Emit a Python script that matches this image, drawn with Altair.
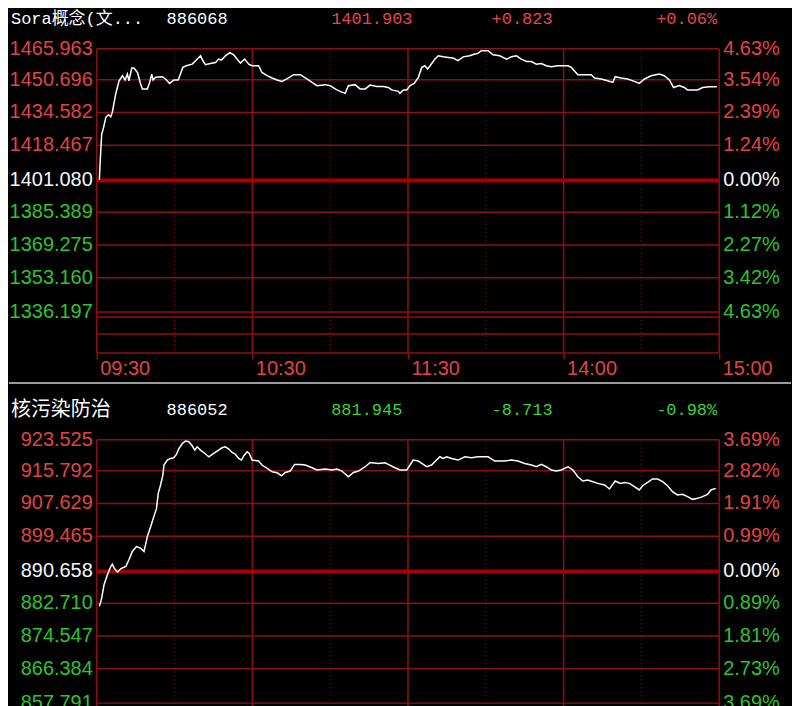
import altair as alt
import pandas as pd

# ---------------- data: top panel (Sora概念) ----------------
top_name = "Sora概念(文..."
top_code = "886068"
top_price_txt = "1401.903"
top_chg_txt = "+0.823"
top_pct_txt = "+0.06%"
top_prev_close = 1401.080
top_left_vals = [1465.963, 1450.696, 1434.582, 1418.467, 1401.080, 1385.389, 1369.275, 1353.160, 1336.197]
top_left_labels = ["1465.963", "1450.696", "1434.582", "1418.467", "1401.080", "1385.389", "1369.275", "1353.160", "1336.197"]
top_right_labels = ["4.63%", "3.54%", "2.39%", "1.24%", "0.00%", "1.12%", "2.27%", "3.42%", "4.63%"]
top_sub_lines = [1333.74, 1325.38]

top_minutes = [1, 1.4, 1.9, 2.4, 3.5, 4.5, 5.4, 6.0, 7.3, 8.6,
               9.9, 10.9, 11.8, 12.4, 13.5, 14.3, 15.7, 16.9, 17.6, 19.5,
               20.4, 21.2, 21.7, 22.7, 25.3, 26.5, 28.1, 29.7, 31.4, 33.2,
               34.5, 36.8, 38.1, 40.0, 40.9, 41.9, 43.8, 45.8, 47.0, 48.1,
               49.6, 51.3, 52.8, 54.1, 55.4, 57.0, 58.6, 59.9, 62.4, 63.7,
               65.7, 67.6, 69.5, 71.4, 73.3, 75.9, 78.5, 81.0, 83.0, 84.9,
               88.1, 90.0, 91.9, 93.8, 95.8, 97.0, 99.6, 101.5, 103.5, 105.4,
               108.0, 110.5, 112.4, 113.7, 116.3, 116.9, 118.2, 119.5, 120.8, 122.4,
               124.0, 125.3, 126.5, 127.6, 128.8, 130.4, 131.7, 133.6, 135.5, 137.4,
               139.3, 141.3, 143.8, 145.8, 147.0, 148.3, 150.9, 152.8, 155.4, 158.0,
               159.9, 161.8, 163.7, 165.7, 167.6, 169.5, 171.4, 173.3, 175.3, 177.8,
               181.7, 183.0, 185.5, 188.1, 190.7, 191.9, 194.5, 197.0, 199.0, 199.9,
               202.2, 204.7, 207.3, 209.2, 211.2, 213.7, 216.9, 218.8, 220.8, 222.4,
               224.6, 226.5, 227.8, 231.7, 233.6, 236.2, 239.1]
top_prices = [1401.4, 1412.5, 1424.0, 1426.0, 1432.2, 1433.5, 1432.5, 1434.7, 1443.7, 1450.2,
              1452.7, 1450.6, 1453.5, 1450.2, 1456.5, 1456.5, 1454.3, 1448.6, 1446.2, 1446.2,
              1449.4, 1453.5, 1450.6, 1451.9, 1452.2, 1451.1, 1448.9, 1450.6, 1450.6, 1456.8,
              1457.6, 1458.4, 1460.1, 1462.5, 1460.1, 1458.1, 1458.7, 1459.2, 1460.9, 1460.4,
              1462.5, 1464.1, 1463.0, 1460.9, 1458.9, 1460.9, 1458.4, 1457.6, 1457.6, 1454.3,
              1452.7, 1451.6, 1450.6, 1449.9, 1451.1, 1453.2, 1453.2, 1451.1, 1449.4, 1447.8,
              1448.3, 1447.8, 1446.2, 1445.0, 1444.0, 1447.8, 1448.3, 1446.2, 1446.2, 1448.1,
              1447.4, 1447.4, 1446.9, 1445.7, 1445.0, 1444.0, 1445.7, 1445.7, 1447.8, 1448.9,
              1451.9, 1456.8, 1457.6, 1456.0, 1458.1, 1460.9, 1462.5, 1462.0, 1461.7, 1461.4,
              1460.1, 1462.0, 1462.5, 1463.4, 1463.7, 1465.0, 1465.0, 1463.0, 1462.5, 1460.9,
              1462.0, 1462.5, 1460.9, 1459.7, 1459.7, 1458.4, 1458.7, 1457.6, 1457.1, 1457.6,
              1457.6, 1456.8, 1453.2, 1453.2, 1453.2, 1451.6, 1451.1, 1450.2, 1449.4, 1452.2,
              1451.6, 1451.1, 1449.9, 1448.9, 1451.1, 1452.7, 1453.5, 1452.7, 1450.6, 1446.9,
              1447.8, 1446.9, 1445.7, 1445.7, 1446.9, 1447.3, 1447.3]

# ---------------- data: bottom panel (核污染防治) ----------------
bot_name = "核污染防治"
bot_code = "886052"
bot_price_txt = "881.945"
bot_chg_txt = "-8.713"
bot_pct_txt = "-0.98%"
bot_prev_close = 890.658
bot_left_vals = [923.525, 915.792, 907.629, 899.465, 890.658, 882.710, 874.547, 866.384, 857.791]
bot_left_labels = ["923.525", "915.792", "907.629", "899.465", "890.658", "882.710", "874.547", "866.384", "857.791"]
bot_right_labels = ["3.69%", "2.82%", "1.91%", "0.99%", "0.00%", "0.89%", "1.81%", "2.73%", "3.69%"]

bot_minutes = [1, 1.9, 2.8, 4.1, 5.4, 6.0, 6.7, 8.0, 9.2, 11.2,
               12.4, 13.7, 15.3, 16.9, 18.2, 18.8, 19.5, 20.8, 22.0, 23.0,
               23.7, 24.6, 25.5, 25.9, 27.2, 28.5, 29.7, 30.7, 31.7, 33.0,
               34.2, 35.5, 36.8, 37.8, 38.7, 40.0, 41.7, 43.2, 45.1, 47.0,
               48.3, 49.6, 50.9, 52.2, 53.5, 54.7, 55.8, 56.7, 58.0, 58.8,
               59.9, 62.4, 63.7, 65.7, 67.6, 69.5, 71.2, 72.7, 74.6, 76.3,
               78.5, 80.4, 83.0, 84.9, 88.1, 90.7, 92.6, 94.5, 97.0, 99.0,
               100.9, 103.5, 105.4, 108.6, 111.2, 112.4, 115.0, 116.9, 119.5, 120.8,
               122.0, 124.0, 125.3, 127.2, 129.1, 131.0, 132.3, 133.6, 134.9, 136.8,
               139.3, 141.9, 144.5, 147.0, 150.9, 153.5, 157.3, 159.9, 162.4, 165.0,
               167.6, 169.5, 171.4, 173.3, 175.3, 177.2, 179.1, 181.7, 183.6, 185.5,
               187.4, 189.3, 191.3, 193.2, 195.8, 197.7, 198.6, 199.9, 201.9, 203.5,
               205.4, 207.3, 209.2, 210.5, 212.4, 214.3, 216.3, 218.2, 220.1, 222.0,
               223.9, 225.9, 227.8, 229.7, 231.7, 233.6, 235.5, 236.8, 238.7]
bot_prices = [881.94, 884.01, 887.35, 889.84, 891.90, 892.48, 891.48, 890.48, 891.33, 891.90,
              893.57, 895.64, 896.88, 896.46, 895.64, 897.31, 899.37, 901.86, 904.35, 906.27,
              910.15, 912.25, 914.74, 917.23, 918.47, 918.87, 919.04, 919.87, 921.36, 922.60,
              923.20, 923.03, 922.03, 920.96, 921.78, 920.96, 920.11, 919.29, 920.11, 920.96,
              921.53, 921.78, 921.21, 920.36, 919.87, 918.87, 918.47, 919.54, 920.54, 920.11,
              918.47, 918.22, 917.23, 916.38, 915.56, 915.31, 914.56, 915.38, 915.73, 917.38,
              917.38, 917.23, 916.55, 915.98, 916.23, 915.98, 916.23, 915.73, 914.31, 915.38,
              915.73, 916.80, 917.87, 917.63, 917.80, 917.38, 916.55, 915.98, 915.98, 917.23,
              918.47, 918.22, 917.63, 916.80, 917.23, 918.47, 919.29, 918.87, 919.29, 918.87,
              918.47, 919.29, 919.04, 919.29, 919.29, 918.22, 918.22, 918.47, 918.22, 917.63,
              917.23, 916.80, 917.38, 916.80, 915.98, 915.73, 915.98, 916.80, 915.98, 914.31,
              913.24, 913.49, 913.07, 912.65, 912.25, 911.25, 912.07, 913.24, 912.65, 912.89,
              912.65, 911.82, 911.00, 912.07, 912.89, 913.74, 913.74, 913.07, 912.07, 910.58,
              909.76, 909.91, 909.33, 908.66, 908.91, 909.33, 909.91, 911.00, 911.40]

# time axis
time_ticks = [0, 60, 120, 180, 240]
time_labels = ["09:30", "10:30", "11:30", "14:00", "15:00"]
half_hour_ticks = [30, 90, 150, 210]

# ---------------- styling ----------------
RED = "#e04444"
GREEN = "#2ec42e"
WHITE = "#f2f8ff"
HDR_RED = "#e84646"
HDR_GREEN = "#3ad43a"
GRID = "#8e1010"
ZERO = "#a80000"
MONO = "Liberation Mono, Noto Sans CJK SC"
SANS = "Liberation Sans"

W = 624
H_TOP = 305
H_BOT = 274

x_scale = alt.Scale(domain=[0, 240], nice=False, zero=False)

label_expr = " : ".join(
    f"datum.value == {v} ? '{t}'" for v, t in zip(time_ticks, time_labels)
) + " : ''"

top_x_axis = alt.Axis(values=time_ticks, labelExpr=label_expr, tickSize=6,
                      tickColor=GRID, tickWidth=1.5, domain=False, grid=False,
                      labelColor=RED, labelFontSize=20, labelFont=SANS,
                      labelAlign="left", labelOffset=3, labelPadding=0,
                      labelFlush=False, labelOverlap=False, labelBound=False,
                      title=None, zindex=2)


def label_color(v, prev):
    if abs(v - prev) < 1e-6:
        return WHITE
    return RED if v > prev else GREEN


def panel(name, code, price_txt, chg_txt, pct_txt, hdr_color, name_size,
          prev, left_vals, left_labels, right_labels, minutes, prices,
          y_domain, height, top_extent, bottom_extent, x_axis, sub_lines, separator):
    y_scale = alt.Scale(domain=y_domain, nice=False, zero=False)
    one = pd.DataFrame({"k": [0]})

    bg = alt.Chart(one).mark_rect(color="black").encode(
        x=alt.value(-88), x2=alt.value(696),
        y=alt.value(top_extent), y2=alt.value(bottom_extent))

    # horizontal grid: label levels, sub-area lines and the lower frame edge
    grid_vals = [v for v in left_vals if abs(v - prev) > 1e-6] + list(sub_lines) + [y_domain[0]]
    grid = alt.Chart(pd.DataFrame({"v": grid_vals})).mark_rule(
        color=GRID, strokeWidth=1.5).encode(y=alt.Y("v:Q", scale=y_scale, axis=None))
    zero = alt.Chart(pd.DataFrame({"v": [prev]})).mark_rule(
        color=ZERO, strokeWidth=4).encode(y=alt.Y("v:Q", scale=y_scale, axis=None))

    vsolid = alt.Chart(pd.DataFrame({"minute": time_ticks})).mark_rule(
        color=GRID, strokeWidth=1.5).encode(
        x=alt.X("minute:Q", scale=x_scale, axis=x_axis))
    vdot = alt.Chart(pd.DataFrame({"minute": half_hour_ticks})).mark_rule(
        color=GRID, strokeWidth=1.2, strokeDash=[1, 3]).encode(
        x=alt.X("minute:Q", scale=x_scale, axis=x_axis))

    line = alt.Chart(pd.DataFrame({"minute": minutes, "price": prices})).mark_line(
        color="white", strokeWidth=1.5).encode(
        x=alt.X("minute:Q", scale=x_scale, axis=x_axis),
        y=alt.Y("price:Q", scale=y_scale, axis=None))

    lab = pd.DataFrame({
        "v": left_vals,
        "l": left_labels,
        "r": right_labels,
        "c": [label_color(v, prev) for v in left_vals],
    })
    left = alt.Chart(lab).mark_text(align="right", baseline="middle",
                                    fontSize=20, font=SANS).encode(
        x=alt.value(-4), y=alt.Y("v:Q", scale=y_scale, axis=None),
        text="l:N", color=alt.Color("c:N", scale=None))
    right = alt.Chart(lab).mark_text(align="left", baseline="middle",
                                     fontSize=20, font=SANS).encode(
        x=alt.value(628), y=alt.Y("v:Q", scale=y_scale, axis=None),
        text="r:N", color=alt.Color("c:N", scale=None))

    hy = -30
    h_name = alt.Chart(one).mark_text(align="left", baseline="middle", font=MONO,
                                      fontSize=name_size, color="white").encode(
        x=alt.value(-86), y=alt.value(hy), text=alt.value(name))
    h_code = alt.Chart(one).mark_text(align="left", baseline="middle", font=MONO,
                                      fontSize=17, color="white").encode(
        x=alt.value(70), y=alt.value(hy), text=alt.value(code))
    h_price = alt.Chart(one).mark_text(align="left", baseline="middle", font=MONO,
                                       fontSize=17, color=hdr_color).encode(
        x=alt.value(235), y=alt.value(hy), text=alt.value(price_txt))
    h_chg = alt.Chart(one).mark_text(align="right", baseline="middle", font=MONO,
                                     fontSize=17, color=hdr_color).encode(
        x=alt.value(457), y=alt.value(hy), text=alt.value(chg_txt))
    h_pct = alt.Chart(one).mark_text(align="right", baseline="middle", font=MONO,
                                     fontSize=17, color=hdr_color).encode(
        x=alt.value(622), y=alt.value(hy), text=alt.value(pct_txt))

    layers = [bg, grid, vdot, vsolid, zero, line, left, right,
              h_name, h_code, h_price, h_chg, h_pct]
    if separator:
        # grey divider along the top edge of the lower panel
        sep = alt.Chart(one).mark_rule(color="#9a9a9a", strokeWidth=2).encode(
            x=alt.value(-88), x2=alt.value(696),
            y=alt.value(top_extent + 1))
        layers.append(sep)
    return alt.layer(*layers).properties(width=W, height=height)


top_panel = panel(top_name, top_code, top_price_txt, top_chg_txt, top_pct_txt,
                  HDR_RED, 17, top_prev_close, top_left_vals, top_left_labels,
                  top_right_labels, top_minutes, top_prices,
                  [1316.04, 1465.963], H_TOP, -40, 334, top_x_axis,
                  top_sub_lines, False)

bot_panel = panel(bot_name, bot_code, bot_price_txt, bot_chg_txt, bot_pct_txt,
                  HDR_GREEN, 20, bot_prev_close, bot_left_vals, bot_left_labels,
                  bot_right_labels, bot_minutes, bot_prices,
                  [855.30, 923.525], H_BOT, -58, 276, None,
                  [], True)

chart = alt.vconcat(top_panel, bot_panel, spacing=0).properties(
    padding=0, background="black"
).configure_view(stroke=None)

chart.save("out.html", embed_options={"renderer": "svg", "actions": False})
